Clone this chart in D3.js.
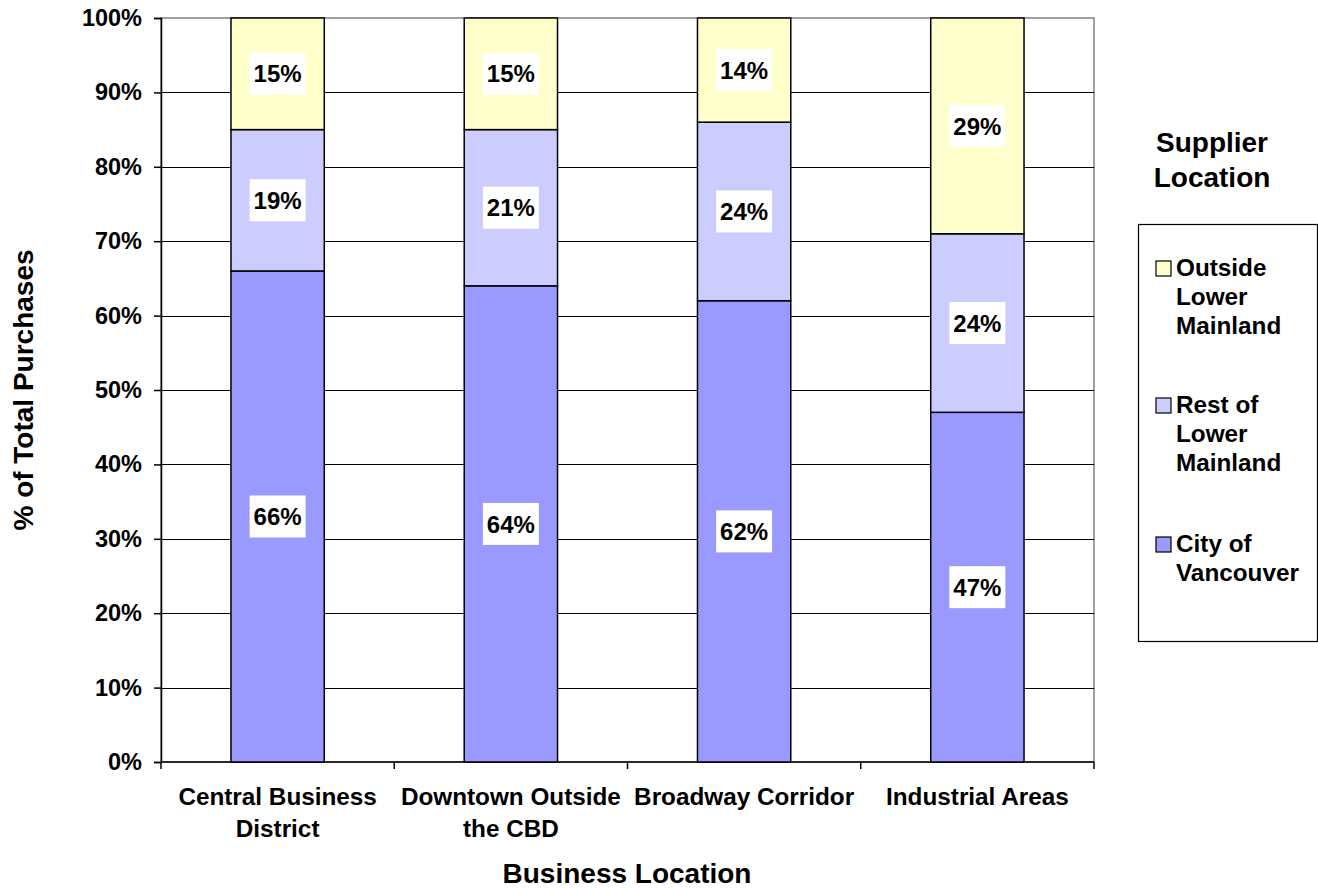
<!DOCTYPE html>
<head>
<meta charset="utf-8">
<style>
body { margin: 0; background: #fff; }
svg { display: block; }
text { font-family: Arial, "Liberation Sans", sans-serif; font-weight: bold; fill: #000; }
</style>
</head>
<body>
<svg width="1318" height="888"></svg>
<script src="https://d3js.org/d3.v7.min.js"></script>
<script>
// data
var categories = [["Central Business", "District"], ["Downtown Outside", "the CBD"], ["Broadway Corridor"], ["Industrial Areas"]];
var cityOfVancouver = [66, 64, 62, 47];
var restOfLowerMainland = [19, 21, 24, 24];
var outsideLowerMainland = [15, 15, 14, 29];
var seriesNames = [["City of", "Vancouver"], ["Rest of", "Lower", "Mainland"], ["Outside", "Lower", "Mainland"]];
var seriesColors = ["#9999ff", "#ccccff", "#ffffcc"];
var yTicks = [0, 10, 20, 30, 40, 50, 60, 70, 80, 90, 100];

var svg = d3.select("svg");
// plot area box (note: "top" is taken by window.top)
var pLeft = 161, pRight = 1094, pTop = 18, pBottom = 762;

var x = d3.scaleBand().domain(d3.range(categories.length)).range([pLeft, pRight])
    .paddingInner(0.6).paddingOuter(0.3);
var y = d3.scaleLinear().domain([0, 100]).range([pBottom, pTop]);

// stacked table
var rows = categories.map(function(c, i) {
  return { i: i, city: cityOfVancouver[i], rest: restOfLowerMainland[i], outside: outsideLowerMainland[i] };
});
var stack = d3.stack().keys(["city", "rest", "outside"])(rows);

// plot border (grey) + gridlines
svg.append("rect").attr("x", pLeft).attr("y", pTop).attr("width", pRight - pLeft).attr("height", pBottom - pTop)
  .attr("fill", "none").attr("stroke", "#808080").attr("stroke-width", 1.5);

svg.append("g").selectAll("line").data(yTicks.filter(function(t) { return t > 0 && t < 100; }))
  .enter().append("line")
  .attr("x1", pLeft).attr("x2", pRight)
  .attr("y1", function(d) { return Math.round(y(d)) + 0.5; })
  .attr("y2", function(d) { return Math.round(y(d)) + 0.5; })
  .attr("stroke", "#000").attr("stroke-width", 1);

// y axis
var yAxis = svg.append("g").attr("transform", "translate(" + pLeft + ",0)")
  .call(d3.axisLeft(y).tickValues(yTicks).tickFormat(function(d) { return d + "%"; }).tickSize(7).tickPadding(12));
yAxis.select(".domain").attr("stroke", "#000").attr("stroke-width", 1.5);
yAxis.selectAll(".tick line").attr("stroke", "#000").attr("stroke-width", 1.5);
yAxis.selectAll(".tick text").attr("font-size", 23.5).attr("font-family", "Arial, 'Liberation Sans', sans-serif")
  .attr("font-weight", "bold").attr("fill", "#000");

// x axis line with ticks at category boundaries
svg.append("line").attr("x1", pLeft).attr("x2", pRight).attr("y1", pBottom).attr("y2", pBottom)
  .attr("stroke", "#000").attr("stroke-width", 1.5);
var step = x.step();
svg.append("g").selectAll("line").data(d3.range(categories.length + 1)).enter().append("line")
  .attr("x1", function(d) { return pLeft + d * step; })
  .attr("x2", function(d) { return pLeft + d * step; })
  .attr("y1", pBottom).attr("y2", pBottom + 7)
  .attr("stroke", "#000").attr("stroke-width", 1.5);

// category labels
svg.append("g").selectAll("text").data(categories).enter().append("text")
  .attr("text-anchor", "middle").attr("font-size", 24.3)
  .attr("transform", function(d, i) { return "translate(" + (x(i) + x.bandwidth() / 2) + ",805)"; })
  .selectAll("tspan").data(function(d) { return d; }).enter().append("tspan")
  .attr("x", 0).attr("y", function(d, j) { return j * 32; })
  .text(function(d) { return d; });

// bars
var layers = svg.append("g").selectAll("g").data(stack).enter().append("g")
  .attr("fill", function(d, k) { return seriesColors[k]; });
layers.selectAll("rect").data(function(d) { return d; }).enter().append("rect")
  .attr("x", function(d) { return x(d.data.i); })
  .attr("width", x.bandwidth())
  .attr("y", function(d) { return y(d[1]); })
  .attr("height", function(d) { return y(d[0]) - y(d[1]); })
  .attr("stroke", "#000").attr("stroke-width", 1.5);

// value labels with white boxes
var labels = svg.append("g").selectAll("g").data(stack).enter().append("g")
  .selectAll("g").data(function(d) { return d; }).enter().append("g")
  .attr("transform", function(d) {
    return "translate(" + (x(d.data.i) + x.bandwidth() / 2) + "," + ((y(d[0]) + y(d[1])) / 2) + ")";
  });
labels.append("rect").attr("x", -28).attr("y", -21).attr("width", 56).attr("height", 42).attr("fill", "#fff");
labels.append("text").attr("text-anchor", "middle").attr("dy", "0.36em").attr("font-size", 24)
  .text(function(d) { return (d[1] - d[0]) + "%"; });

// axis titles
svg.append("text").attr("text-anchor", "middle").attr("font-size", 28)
  .attr("transform", "translate(33,390) rotate(-90)").text("% of Total Purchases");
svg.append("text").attr("text-anchor", "middle").attr("font-size", 28)
  .attr("x", 627).attr("y", 883).text("Business Location");

// legend
var legendTitle = svg.append("text").attr("text-anchor", "middle").attr("font-size", 28)
  .attr("transform", "translate(1212,152)");
legendTitle.append("tspan").attr("x", 0).attr("y", 0).text("Supplier");
legendTitle.append("tspan").attr("x", 0).attr("y", 35).text("Location");

svg.append("rect").attr("x", 1138.5).attr("y", 224.5).attr("width", 179).attr("height", 417)
  .attr("fill", "#fff").attr("stroke", "#000").attr("stroke-width", 1.2);

var legendOrder = [2, 1, 0];
var legendBase = [276, 413, 552];
var items = svg.append("g").selectAll("g").data(legendOrder).enter().append("g")
  .attr("transform", function(d, j) { return "translate(1156," + legendBase[j] + ")"; });
items.append("rect").attr("x", 0).attr("y", -15).attr("width", 15).attr("height", 15)
  .attr("fill", function(d) { return seriesColors[d]; }).attr("stroke", "#000").attr("stroke-width", 1.2);
items.append("text").attr("font-size", 24.3)
  .selectAll("tspan").data(function(d) { return seriesNames[d]; }).enter().append("tspan")
  .attr("x", 20).attr("y", function(d, j) { return j * 29; })
  .text(function(d) { return d; });
</script>
